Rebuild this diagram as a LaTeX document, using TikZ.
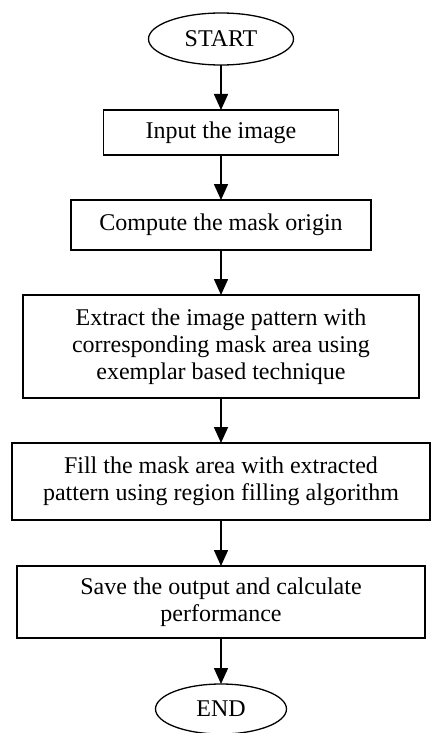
\documentclass[tikz,border=0pt]{standalone}
\usepackage{fontspec}
\setmainfont{Liberation Serif}
\usepackage{tikz}
\usetikzlibrary{positioning, shapes.geometric, arrows.meta}

\tikzset{
    stepbox/.style={draw,
        line width=1.5pt,
        align=center,
        inner sep=2pt,
        outer sep=0pt,
        font=\fontsize{24}{27}\selectfont},
    termbox/.style={draw,
        ellipse,
        line width=1.3pt,
        inner sep=0pt,
        outer sep=0pt,
        font=\fontsize{24}{27}\selectfont},
    flow/.style={line width=1.6pt,
        -{Triangle[width=14pt,length=16pt]}}
}

\begin{document}
\begin{tikzpicture}

        \useasboundingbox (0,0) rectangle (438pt,-733pt);

        % Start

        \node [termbox,
        minimum width=145pt,
        minimum height=52pt
            ] (start) at (221pt,-39pt) {START};

        % Steps

        \node [stepbox,
        minimum width=235pt,
        minimum height=45pt,
        below=45pt of start
            ] (input) {Input the image};

        \node [stepbox,
        minimum width=300pt,
        minimum height=50pt,
        below=45pt of input
            ] (mask) {Compute the mask origin};

        \node [stepbox,
        minimum width=396pt,
        minimum height=103pt,
        below=45pt of mask
            ] (extract) {Extract the image pattern with\\
            corresponding mask area using\\
            exemplar based technique};

        \node [stepbox,
        minimum width=418pt,
        minimum height=77pt,
        below=45pt of extract
            ] (fill) {Fill the mask area with extracted\\
            pattern using region filling algorithm};

        \node [stepbox,
        minimum width=408pt,
        minimum height=72pt,
        below=46pt of fill
            ] (save) {Save the output and calculate\\
            performance};

        % End

        \node [termbox,
        minimum width=131pt,
        minimum height=50pt,
        below=46pt of save
            ] (end) {END};

        \draw[flow] (start) -- (input);
        \draw[flow] (input) -- (mask);
        \draw[flow] (mask) -- (extract);
        \draw[flow] (extract) -- (fill);
        \draw[flow] (fill) -- (save);
        \draw[flow] (save) -- (end);
        \end{tikzpicture}
\end{document}
